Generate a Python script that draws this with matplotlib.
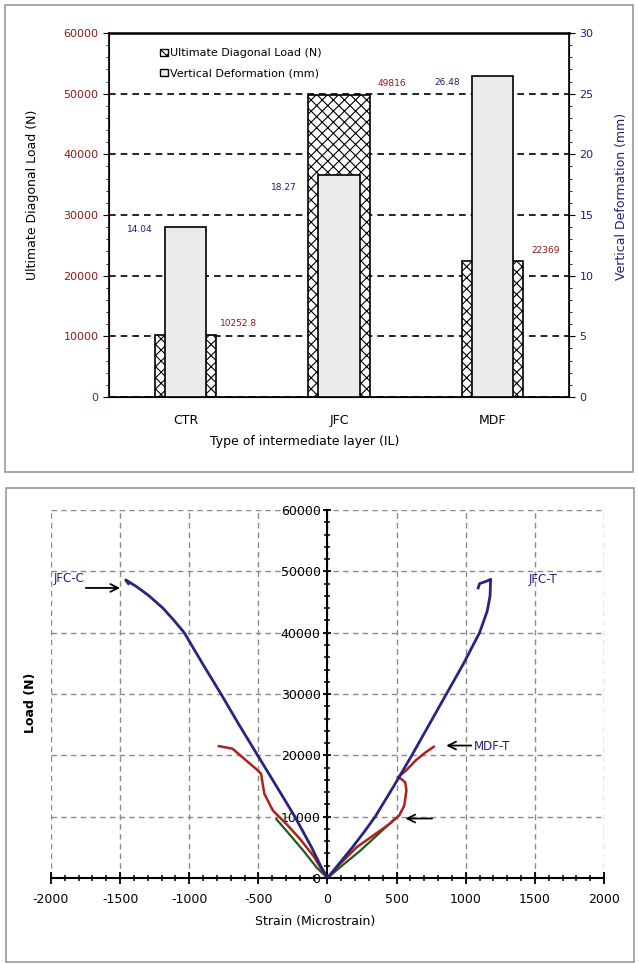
import matplotlib
matplotlib.use("Agg")
import matplotlib.pyplot as plt
from matplotlib.patches import Patch, Rectangle
from matplotlib.ticker import MultipleLocator

plt.rcParams['font.family'] = 'DejaVu Sans'
plt.rcParams['axes.unicode_minus'] = False
plt.rcParams['hatch.linewidth'] = 0.8

# ---- bar chart data (top panel)
categories = ["CTR", "JFC", "MDF"]
ultimate_load = [10252.8, 49816, 22369]     # N
vertical_def = [14.04, 18.27, 26.48]        # mm
load_labels = ["10252.8", "49816", "22369"]
def_labels = ["14.04", "18.27", "26.48"]

# ---- load-strain curves (bottom panel)
jfc_c_strain = [0, -50, -115, -236, -370, -505, -640, -770, -905, -1036, -1110, -1190, -1290, -1380, -1445, -1459, -1440]
jfc_c_load = [0, 2000, 5000, 10000, 15000, 20000, 25000, 30000, 35000, 40000, 42000, 44000, 46000, 47500, 48400, 48600, 48000]

jfc_t_strain = [0, 90, 180, 265, 345, 480, 610, 735, 860, 985, 1100, 1155, 1176, 1180, 1150, 1100, 1090]
jfc_t_load = [0, 2500, 5000, 7500, 10000, 15000, 20000, 25000, 30000, 35000, 40000, 43500, 46000, 48700, 48400, 48000, 47300]

mdf_c_strain = [0, -29, -102, -200, -297, -395, -456, -473, -480, -517, -590, -688, -785]
mdf_c_load = [0, 900, 3600, 6400, 8800, 11000, 13700, 15900, 17000, 17800, 19200, 21100, 21500]

mdf_t_strain = [0, 91, 210, 329, 448, 519, 555, 571, 562, 531, 507, 567, 639, 710, 769]
mdf_t_load = [0, 2300, 5000, 6900, 8800, 10200, 11800, 14300, 15600, 16200, 16400, 17500, 19200, 20500, 21400]

ctr_c_strain = [0, -78, -176, -297, -370]
ctr_c_load = [0, 1700, 4500, 7700, 9600]

ctr_t_strain = [0, 110, 234, 360, 484]
ctr_t_load = [0, 2100, 4400, 7000, 9600]

dark_red = '#8B1A1A'
navy = '#1F1F78'

fig = plt.figure(figsize=(6.39, 9.64), dpi=100)

# gray frames around each panel
fig.patches.append(Rectangle((5 / 639, 1 - 472 / 964), 628 / 639, 467 / 964, transform=fig.transFigure,
                             fill=False, edgecolor='#9a9a9a', lw=1.2))
fig.patches.append(Rectangle((6 / 639, 1 - 962 / 964), 628 / 639, 474 / 964, transform=fig.transFigure,
                             fill=False, edgecolor='#9a9a9a', lw=1.2))

# ================= top panel =================
ax = fig.add_axes([0.1706, 0.5882, 0.72, 0.3776])
ax2 = ax.twinx()
x = [i + 0.5 for i in range(len(categories))]

ax.bar(x, ultimate_load, width=0.4, color='white', edgecolor='black', hatch='xxx', lw=1.2, zorder=2)
ax2.bar(x, vertical_def, width=0.27, color='#EBEBEB', edgecolor='black', lw=1.2, zorder=3)

ax.set_xlim(0, 3)
ax.set_ylim(0, 60000)
ax2.set_ylim(0, 30)
ax.set_xticks(x)
ax.set_xticklabels(categories, fontsize=9)
ax.tick_params(axis='x', length=0, pad=12)
ax.yaxis.set_major_locator(MultipleLocator(10000))
ax.yaxis.set_minor_locator(MultipleLocator(2000))
ax.tick_params(axis='y', labelsize=8, labelcolor=dark_red, length=4)
ax.tick_params(axis='y', which='minor', length=2)
ax2.yaxis.set_major_locator(MultipleLocator(5))
ax2.yaxis.set_minor_locator(MultipleLocator(1))
ax2.tick_params(axis='y', labelsize=8, labelcolor=navy, length=4)
ax2.tick_params(axis='y', which='minor', length=2)
ax.set_axisbelow(True)
ax.yaxis.grid(True, linestyle=(0, (4, 3)), color='black', lw=1.2)
for sp in ax.spines.values():
    sp.set_linewidth(1.2)
ax.spines['top'].set_linewidth(1.8)

ax.set_ylabel("Ultimate Diagonal Load (N)", fontsize=9)
ax.yaxis.set_label_coords(-0.153, 0.556)
ax2.set_ylabel("Vertical Deformation (mm)", fontsize=9, color=navy)
ax2.yaxis.set_label_coords(1.10, 0.551)
ax.set_xlabel("Type of intermediate layer (IL)", fontsize=9)
ax.xaxis.set_label_coords(0.426, -0.105)

for xi, v, lab in zip(x, ultimate_load, load_labels):
    ax.annotate(lab, (xi + 0.2, v), xytext=(16, 8), textcoords='offset points',
                ha='center', va='center', fontsize=6.5, color=dark_red, zorder=5)
def_offsets = [(-18, -2), (-25, -9), (-18, -5)]
for xi, v, lab, off in zip(x, vertical_def, def_labels, def_offsets):
    ax2.annotate(lab, (xi - 0.135, v), xytext=off, textcoords='offset points',
                 ha='center', va='center', fontsize=6.5, color=navy, zorder=5)

handles = [Patch(facecolor='white', edgecolor='black', hatch='xxx', label='Ultimate Diagonal Load (N)'),
           Patch(facecolor='#EBEBEB', edgecolor='black', label='Vertical Deformation (mm)')]
ax.legend(handles=handles, loc='upper left', bbox_to_anchor=(0.09, 0.985), frameon=False, fontsize=8,
          handlelength=0.7, handleheight=0.7, handletextpad=0.2, labelspacing=0.9)

# ================= bottom panel =================
bx = fig.add_axes([0.0798, 0.0892, 0.8654, 0.3817])
bx.plot(ctr_c_strain, ctr_c_load, color='#1D5B1D', lw=1.6, zorder=3)
bx.plot(ctr_t_strain, ctr_t_load, color='#1D5B1D', lw=1.6, zorder=3)
bx.plot(mdf_c_strain, mdf_c_load, color='#B0201C', lw=1.8, zorder=4)
bx.plot(mdf_t_strain, mdf_t_load, color='#B0201C', lw=1.8, zorder=4)
bx.plot(jfc_c_strain, jfc_c_load, color='#262680', lw=2.0, zorder=5)
bx.plot(jfc_t_strain, jfc_t_load, color='#262680', lw=2.0, zorder=5)

bx.set_xlim(-2000, 2000)
bx.set_ylim(0, 60000)
bx.spines['left'].set_position(('data', 0))
bx.spines['bottom'].set_position(('data', 0))
bx.spines['top'].set_visible(False)
bx.spines['right'].set_visible(False)
bx.spines['left'].set_linewidth(1.5)
bx.spines['bottom'].set_linewidth(1.5)
bx.xaxis.set_major_locator(MultipleLocator(500))
bx.xaxis.set_minor_locator(MultipleLocator(100))
bx.yaxis.set_major_locator(MultipleLocator(10000))
bx.yaxis.set_minor_locator(MultipleLocator(2000))
bx.tick_params(axis='x', direction='inout', length=9, width=1.3, labelsize=9, pad=6)
bx.tick_params(axis='x', which='minor', direction='inout', length=5, width=1.1)
bx.tick_params(axis='y', direction='inout', length=6, width=1.3, labelsize=9, pad=2)
bx.tick_params(axis='y', which='minor', direction='inout', length=4, width=1.1)
bx.grid(True, linestyle=(0, (4, 3)), color='#8a8a8a', lw=1.0)
bx.set_axisbelow(True)

bx.set_xlabel("Strain (Microstrain)", fontsize=9)
bx.xaxis.set_label_coords(0.478, -0.10)
bx.set_ylabel("Load (N)", fontsize=9, fontweight='bold')
bx.yaxis.set_label_coords(-0.025, 0.476)

bx.text(-1980, 48900, "JFC-C", color=navy, fontsize=8.5, va='center')
bx.text(1458, 48600, "JFC-T", color=navy, fontsize=8.5, va='center')
bx.text(1060, 21500, "MDF-T", color=navy, fontsize=8.5, va='center')
arrow = dict(arrowstyle='->', color='black', lw=1.3, mutation_scale=14)
bx.annotate('', xy=(-1480, 47300), xytext=(-1768, 47300), arrowprops=arrow)
bx.annotate('', xy=(839, 21600), xytext=(1060, 21600), arrowprops=arrow)
bx.annotate('', xy=(543, 9700), xytext=(777, 9700), arrowprops=arrow)

fig.savefig("out.png", dpi=100)
